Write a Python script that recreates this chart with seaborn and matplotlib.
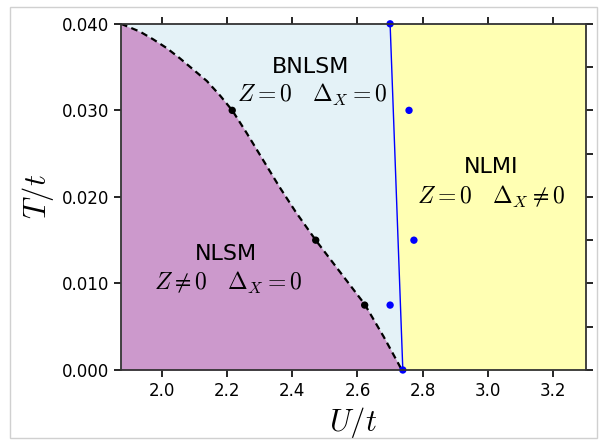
import numpy as np
import pandas as pd
import matplotlib
matplotlib.use("Agg")
import matplotlib.pyplot as plt
import matplotlib.patches as patches
from matplotlib.ticker import MultipleLocator, FormatStrFormatter
import seaborn as sns

# Phase boundary NLSM / BNLSM (dashed black)
curve_U = [1.875, 1.933, 1.974, 2.015, 2.056, 2.097, 2.138, 2.179, 2.216,
           2.260, 2.310, 2.360, 2.410, 2.472, 2.549, 2.622, 2.681, 2.736]
curve_T = [0.0400, 0.0391, 0.0382, 0.0372, 0.0360, 0.0347, 0.0334, 0.0317, 0.0300,
           0.0274, 0.0243, 0.0212, 0.0183, 0.0150, 0.0112, 0.0076, 0.0038, 0.0]

# Computed points on the dashed boundary
black_U = [2.216, 2.472, 2.622]
black_T = [0.030, 0.015, 0.0075]

# Metal-insulator boundary (blue line) and its points
line_U = [2.700, 2.739]
line_T = [0.040, 0.0]
blue_U = [2.700, 2.758, 2.773, 2.700, 2.739]
blue_T = [0.040, 0.030, 0.015, 0.0075, 0.0]

x_min, x_max = 1.875, 3.30
y_min, y_max = 0.0, 0.040

sns.set_style("ticks")
plt.rcParams["font.family"] = ["DejaVu Sans"]
plt.rcParams["mathtext.fontset"] = "cm"
plt.rcParams["text.color"] = "black"
plt.rcParams["axes.labelcolor"] = "black"
plt.rcParams["xtick.color"] = "black"
plt.rcParams["ytick.color"] = "black"

fig = plt.figure(figsize=(5.99, 4.41), dpi=100)
ax = fig.add_axes([0.202, 0.161, 0.776, 0.785])

# Regions
ax.set_facecolor("#e4f2f7")
ax.fill_betweenx(curve_T, x_min, curve_U, color="#cc99cc", lw=0, zorder=1)
ax.fill_betweenx(line_T, line_U, x_max, color="#ffffb3", lw=0, zorder=1)

# Boundaries
curve = pd.DataFrame({"U": curve_U, "T": curve_T})
sns.lineplot(data=curve, x="U", y="T", ax=ax, color="black", lw=1.6,
             sort=False, zorder=3)
ax.lines[-1].set_dashes((3, 2))
line = pd.DataFrame({"U": line_U, "T": line_T})
sns.lineplot(data=line, x="U", y="T", ax=ax, color="blue", lw=1.0,
             sort=False, zorder=3)

sns.scatterplot(x=black_U, y=black_T, ax=ax, color="black", s=28,
                edgecolor="none", zorder=4)
sns.scatterplot(x=blue_U, y=blue_T, ax=ax, color="blue", s=28,
                edgecolor="none", zorder=4, clip_on=False)

# Phase labels
ax.text(2.457, 0.035, "BNLSM", ha="center", va="center", fontsize=16)
ax.text(2.463, 0.0318, r"$Z = 0\quad\Delta_X = 0$", ha="center", va="center", fontsize=17)
ax.text(3.01, 0.0234, "NLMI", ha="center", va="center", fontsize=16)
ax.text(3.01, 0.0200, r"$Z = 0\quad\Delta_X \neq 0$", ha="center", va="center", fontsize=17)
ax.text(2.198, 0.0134, "NLSM", ha="center", va="center", fontsize=16)
ax.text(2.205, 0.0101, r"$Z \neq 0\quad\Delta_X = 0$", ha="center", va="center", fontsize=17)

ax.set_xlim(x_min, x_max)
ax.set_ylim(y_min, y_max)
ax.xaxis.set_major_locator(MultipleLocator(0.2))
ax.yaxis.set_major_locator(MultipleLocator(0.01))
ax.yaxis.set_minor_locator(MultipleLocator(0.005))
ax.yaxis.set_major_formatter(FormatStrFormatter("%.3f"))
ax.tick_params(which="both", direction="out", length=5, width=1.2, labelsize=12,
               top=True, right=True, color="black", labelcolor="black")
ax.tick_params(which="minor", left=False, right=True, length=5, width=1.2)
for s in ax.spines.values():
    s.set_color("#333333")
    s.set_linewidth(1.3)
    s.set_zorder(5)

ax.set_xlabel(r"$U/t$", fontsize=22)
ax.set_ylabel(r"$T/t$", fontsize=22)

# Light frame around the figure
fig.patches.append(patches.Rectangle((10 / 599, 3 / 441), 587 / 599, 431 / 441,
                                     transform=fig.transFigure, fill=False,
                                     edgecolor="#d0d0d0", lw=1))

fig.savefig("out.png", dpi=100)
